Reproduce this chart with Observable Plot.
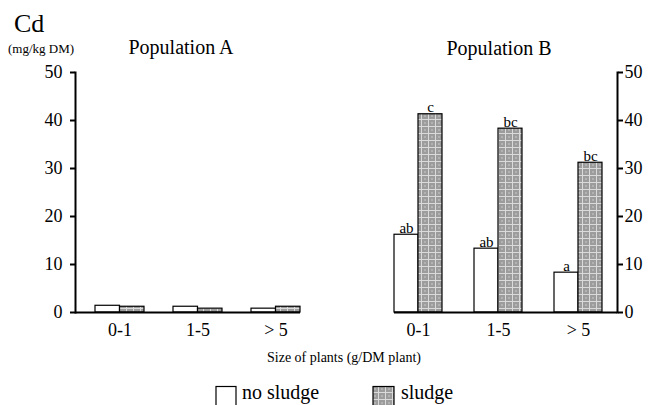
<!DOCTYPE html>
<html>
<head>
<meta charset="utf-8">
<script src="https://cdn.jsdelivr.net/npm/d3@7"></script>
<script src="https://cdn.jsdelivr.net/npm/@observablehq/plot@0.6"></script>
<style>
  html, body { margin: 0; padding: 0; background: #fff; }
  #wrap { position: relative; width: 649px; height: 405px; overflow: hidden; background: #fff; font-family: "Liberation Serif", "DejaVu Serif", serif; }
  #wrap > svg { position: absolute; }
  #wrap svg text { font-family: "Liberation Serif", "DejaVu Serif", serif !important; }
</style>
</head>
<body>
<div id="wrap">
  <svg id="defs" width="0" height="0" style="position:absolute;left:0;top:0">
    <defs>
      <pattern id="grid" patternUnits="userSpaceOnUse" width="7" height="7">
        <rect width="7" height="7" fill="#9c9c9c"></rect>
        <path d="M0 0.5H7M0.5 0V7" stroke="#dadada" stroke-width="1"></path>
        <circle cx="4" cy="4" r="0.8" fill="#cfcfcf"></circle>
      </pattern>
    </defs>
  </svg>
</div>
<script>
// ---- data ----
const sizes = ["0-1", "1-5", "> 5"];
const treatments = ["no sludge", "sludge"];
const popA_noSludge = [1.4, 1.2, 0.8];
const popA_sludge = [1.2, 0.8, 1.2];
const popB_noSludge = [16.2, 13.3, 8.3];
const popB_sludge = [41.3, 38.3, 31.2];
const popB_noSludgeLetters = ["ab", "ab", "a"];
const popB_sludgeLetters = ["c", "bc", "bc"];
const yTicks = [0, 10, 20, 30, 40, 50];

const rows = (vals, letters) => sizes.map((s, i) => ({size: s, value: vals[i], letter: letters ? letters[i] : ""}));
const dataA0 = rows(popA_noSludge), dataA1 = rows(popA_sludge);
const dataB0 = rows(popB_noSludge, popB_noSludgeLetters), dataB1 = rows(popB_sludge, popB_sludgeLetters);

const FONT = "Liberation Serif";

function panel({data0, data1, width, marginLeft, marginRight, paddingInner, paddingOuter, align, anchor, labels, bw}) {
  const half = bw / 2;
  const marks = [
    Plot.barY(data0, {x: "size", y: "value", fill: "white", stroke: "black", strokeWidth: 1.2, insetRight: half}),
    Plot.barY(data1, {x: "size", y: "value", fill: "url(#grid)", stroke: "black", strokeWidth: 1.2, insetLeft: half}),
    Plot.ruleY([0], {stroke: "black", strokeWidth: 2}),
    Plot.frame({anchor, stroke: "black", strokeWidth: 2}),
    Plot.axisY({anchor, ticks: yTicks, tickSize: 5, tickPadding: anchor === "left" ? 8 : 2, strokeWidth: 2, fontSize: 18, fontFamily: FONT, label: null}),
    Plot.axisX({anchor: "bottom", tickSize: 0, tickPadding: 11, fontSize: 18, fontFamily: FONT, label: null})
  ];
  if (labels) {
    marks.push(
      Plot.text(data0, {x: "size", y: "value", text: "letter", dx: -bw / 4, dy: -2, lineAnchor: "bottom", fontSize: 15, fontFamily: FONT, fill: "black"}),
      Plot.text(data1, {x: "size", y: "value", text: "letter", dx: bw / 4, dy: -2, lineAnchor: "bottom", fontSize: 15, fontFamily: FONT, fill: "black"})
    );
  }
  const svg = Plot.plot({
    width, height: 340,
    marginLeft, marginRight, marginTop: 72, marginBottom: 28,
    style: {fontFamily: FONT, fontSize: "18px", color: "black", background: "transparent", overflow: "visible"},
    x: {domain: sizes, paddingInner, paddingOuter, align, axis: null},
    y: {domain: [0, 50], axis: null},
    marks
  });
  svg.setAttribute("font-family", FONT);
  return svg;
}

function build(opts) {
  const probe = panel({...opts, bw: 0});
  const bw = probe.scale("x").bandwidth;
  return panel({...opts, bw});
}

const wrap = document.getElementById("wrap");

const left = build({data0: dataA0, data1: dataA1, width: 330, marginLeft: 75, marginRight: 30,
  paddingInner: 0.377, paddingOuter: 0.118, align: 1, anchor: "left", labels: false});
left.style.left = "0px"; left.style.top = "0px";
wrap.appendChild(left);

const right = build({data0: dataB0, data1: dataB1, width: 319, marginLeft: 64, marginRight: 32,
  paddingInner: 0.404, paddingOuter: 0.087, align: 0, anchor: "right", labels: true});
right.style.left = "330px"; right.style.top = "0px";
wrap.appendChild(right);

// ---- texts and legend ----
const ns = "http://www.w3.org/2000/svg";
const over = document.createElementNS(ns, "svg");
over.setAttribute("width", 649); over.setAttribute("height", 405);
over.style.left = "0px"; over.style.top = "0px";
over.setAttribute("font-family", FONT);
function txt(s, x, y, size, anchor = "start") {
  const t = document.createElementNS(ns, "text");
  t.setAttribute("x", x); t.setAttribute("y", y);
  t.setAttribute("font-size", size); t.setAttribute("text-anchor", anchor);
  t.setAttribute("fill", "black");
  t.textContent = s;
  over.appendChild(t);
}
function box(x, y, w, h, fill) {
  const r = document.createElementNS(ns, "rect");
  r.setAttribute("x", x); r.setAttribute("y", y); r.setAttribute("width", w); r.setAttribute("height", h);
  r.setAttribute("fill", fill); r.setAttribute("stroke", "black"); r.setAttribute("stroke-width", 1.2);
  over.appendChild(r);
}
txt("Cd", 14, 32, 26);
txt("(mg/kg DM)", 8, 53, 13);
txt("Population A", 181, 54, 20, "middle");
txt("Population B", 499, 55, 20, "middle");
txt("Size of plants (g/DM plant)", 344, 362, 14, "middle");
box(216, 386.5, 20, 22, "white");
txt(treatments[0], 242, 399, 20);
box(373, 386.5, 21, 22, "url(#grid)");
txt(treatments[1], 401, 399, 20);
wrap.appendChild(over);
</script>
</body>
</html>
